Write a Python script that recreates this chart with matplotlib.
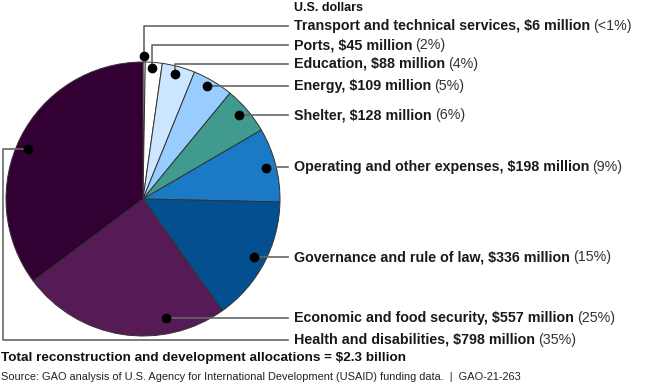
import matplotlib.pyplot as plt
from matplotlib import font_manager

# allocations in millions of U.S. dollars, clockwise from the top
categories = [
    "Transport and technical services",
    "Ports",
    "Education",
    "Energy",
    "Shelter",
    "Operating and other expenses",
    "Governance and rule of law",
    "Economic and food security",
    "Health and disabilities",
]
amounts = [6, 45, 88, 109, 128, 198, 336, 557, 798]
shares = ["<1%", "2%", "4%", "5%", "6%", "9%", "15%", "25%", "35%"]

colors = ["#ffffff", "#ffffff", "#cce6ff", "#99ccff", "#409a8e",
          "#1a7ac6", "#044f8f", "#561a57", "#330033"]

names = {f.name for f in font_manager.fontManager.ttflist}
font = "Liberation Sans Narrow" if "Liberation Sans Narrow" in names else "Liberation Sans"
plt.rcParams["font.family"] = [font, "DejaVu Sans"]

W, H = 650, 390
fig = plt.figure(figsize=(W / 100, H / 100), dpi=100)
ax = fig.add_axes([0, 0, 1, 1])


def Y(y):
    # image rows (top down) to axes y
    return H - y


cx, cy, r = 143, 199, 137
ax.pie(amounts, colors=colors, startangle=90, counterclock=False,
       center=(cx, Y(cy)), radius=r, frame=True,
       wedgeprops=dict(edgecolor="#333333", linewidth=0.7))
ax.set_xlim(0, W)
ax.set_ylim(0, H)
ax.axis("off")

# leader lines: dot position and path to the label
line_end = 288
text_x = 294
label_y = [26, 45, 64, 86, 115, 167, 257, 318, 340]
dots = [(144, 56), (152, 68), (175, 74), (207, 86), (239, 115),
        (266, 168), (254, 257), (166, 318), (28, 149)]

lc = "#666666"
for i, (dx, dy) in enumerate(dots):
    ly = label_y[i]
    if i == 8:
        xs = [dx, 3, 3, line_end]
        ys = [dy, dy, ly, ly]
    elif dy != ly:
        xs = [dx, dx, line_end]
        ys = [dy, ly, ly]
    else:
        xs = [dx, line_end]
        ys = [dy, ly]
    ax.plot(xs, [Y(v) for v in ys], color=lc, lw=1.2, zorder=3)
    ax.plot(dx, Y(dy), "o", color="black", ms=6, zorder=4)

fig.canvas.draw()
renderer = fig.canvas.get_renderer()

fs = 10.3
ax.text(text_x, Y(8), "U.S. dollars", fontsize=9, fontweight="bold",
        color="#111111", va="center", ha="left")
for name, amt, share, ly in zip(categories, amounts, shares, label_y):
    t = ax.text(text_x, Y(ly), f"{name}, ${amt} million", fontsize=fs,
                fontweight="bold", color="#1a1a1a", va="center", ha="left")
    bb = t.get_window_extent(renderer)
    ax.text(bb.x1 + 3, Y(ly), f"({share})", fontsize=fs, color="#333333",
            va="center", ha="left")

ax.text(1, Y(358), "Total reconstruction and development allocations = $2.3 billion",
        fontsize=9.7, fontweight="bold", color="#111111", va="center", ha="left")
ax.text(1, Y(377), "Source: GAO analysis of U.S. Agency for International Development "
        "(USAID) funding data.  |  GAO-21-263",
        fontsize=7.9, color="#222222", va="center", ha="left")

fig.savefig("out.png", dpi=100)
